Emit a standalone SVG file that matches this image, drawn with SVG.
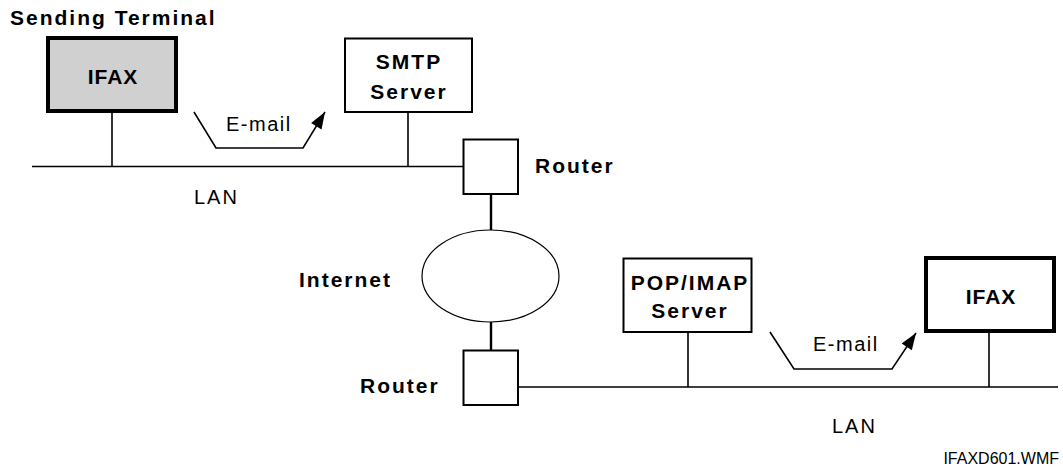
<svg xmlns="http://www.w3.org/2000/svg" width="1063" height="470" viewBox="0 0 1063 470">
  <style>
    .bold { font-family: "Liberation Sans", Arial, sans-serif; font-weight: bold; font-size: 21px; letter-spacing: 2px; fill: #000; }
    .reg { font-family: "Liberation Sans", Arial, sans-serif; font-size: 20px; letter-spacing: 1.5px; fill: #000; }
    .small { font-family: "Liberation Sans", Arial, sans-serif; font-size: 16px; fill: #000; }
    .mid { text-anchor: middle; }
    .box { fill: #fff; stroke: #000; stroke-width: 2; }
    .ifax { stroke: #000; stroke-width: 4; }
    .wire { fill: none; stroke: #000; stroke-width: 1.6; }
    .flow { fill: none; stroke: #000; stroke-width: 1.6; marker-end: url(#head); }
  </style>
  <defs>
    <marker id="head" markerUnits="userSpaceOnUse" markerWidth="20" markerHeight="20" refX="0" refY="0" viewBox="-16 -8 18 16" orient="auto">
      <path d="M0,0 L-15,-5.5 L-15,5.5 Z" fill="#000"/>
    </marker>
  </defs>

  <text class="bold" x="10" y="25">Sending Terminal</text>

  <!-- network cabling -->
  <g id="connectors">
    <line class="wire" x1="32" y1="166.5" x2="463" y2="166.5"/>
    <line class="wire" x1="112" y1="113" x2="112" y2="166.5"/>
    <line class="wire" x1="408" y1="112" x2="408" y2="166.5"/>
    <line class="wire" x1="518" y1="387" x2="1058" y2="387"/>
    <line class="wire" x1="688" y1="332" x2="688" y2="387"/>
    <line class="wire" x1="989" y1="333" x2="989" y2="387"/>
    <line x1="491" y1="194" x2="491" y2="230" stroke="#000" stroke-width="2.4"/>
    <line x1="491" y1="322" x2="491" y2="350" stroke="#000" stroke-width="2.4"/>
    <path class="flow" d="M194,112 L216,148 L303,148 L325,112"/>
    <path class="flow" d="M770,332 L794,369 L892,369 L916,333"/>
  </g>

  <g id="ifax-send">
    <rect class="ifax" x="48" y="38" width="128" height="73" fill="#d0d0d0"/>
    <text class="bold mid" x="113" y="84" style="letter-spacing:1px">IFAX</text>
  </g>

  <g id="smtp-server">
    <rect class="box" x="345" y="38.5" width="127" height="73.5"/>
    <text class="bold mid" x="409" y="69">SMTP</text>
    <text class="bold mid" x="409" y="99">Server</text>
  </g>

  <g id="router-top">
    <rect class="box" x="463.5" y="139.5" width="54.5" height="54.5"/>
    <text class="bold" x="535" y="173">Router</text>
  </g>

  <g id="internet">
    <ellipse cx="490.5" cy="276" rx="68.5" ry="46" fill="#fff" stroke="#000" stroke-width="1.2"/>
    <text class="bold" x="299" y="287">Internet</text>
  </g>

  <g id="router-bottom">
    <rect class="box" x="463.5" y="350.5" width="54.5" height="54.5"/>
    <text class="bold" x="360" y="393">Router</text>
  </g>

  <g id="pop-imap-server">
    <rect class="box" x="623.5" y="258.5" width="128" height="73.5"/>
    <text class="bold mid" x="690" y="290">POP/IMAP</text>
    <text class="bold mid" x="690" y="318">Server</text>
  </g>

  <g id="ifax-receive">
    <rect class="ifax" x="926" y="258" width="128" height="73" fill="#fff"/>
    <text class="bold mid" x="991" y="304" style="letter-spacing:1px">IFAX</text>
  </g>

  <text class="reg" x="226" y="131">E-mail</text>
  <text class="reg" x="813" y="351">E-mail</text>
  <text class="reg" x="194" y="204" style="letter-spacing:2px">LAN</text>
  <text class="reg" x="832" y="433" style="letter-spacing:2px">LAN</text>
  <text class="small" x="1059" y="464" text-anchor="end">IFAXD601.WMF</text>
</svg>
